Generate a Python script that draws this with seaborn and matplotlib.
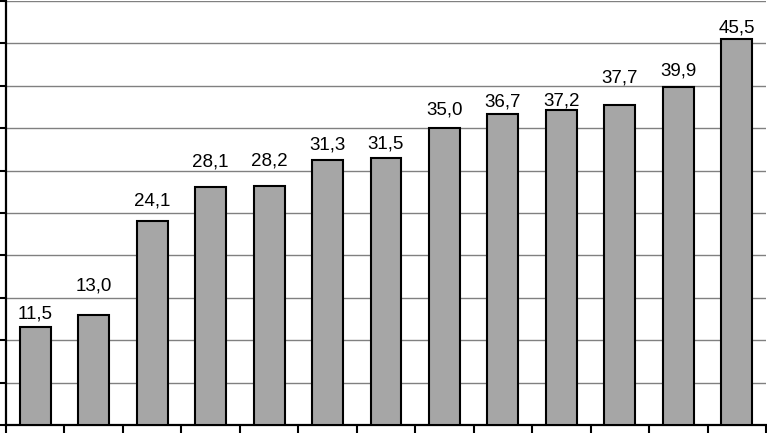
import matplotlib
matplotlib.use("Agg")
import matplotlib.pyplot as plt
import seaborn as sns
import pandas as pd
import numpy as np

# Data
categories = ['1', '2', '3', '4', '5', '6', '7', '8', '9', '10', '11', '12', '13']
values = [11.5, 13.0, 24.1, 28.1, 28.2, 31.3, 31.5, 35.0, 36.7, 37.2, 37.7, 39.9, 45.5]
y_ticks = [0, 5, 10, 15, 20, 25, 30, 35, 40, 45, 50]

# gap (px) between bar top and label baseline, as placed in the reference
label_gap_px = [9, 24, 15, 20, 20, 10, 9, 14, 7, 4, 23, 11, 7]

df = pd.DataFrame({'Category': categories, 'Value': values})

sns.set_style('white')
plt.rcParams['font.family'] = ['Liberation Sans', 'DejaVu Sans']

fig = plt.figure(figsize=(7.67, 4.33), dpi=100)
ax = fig.add_axes([6 / 767, 8 / 433, 760 / 767, 424 / 433])

sns.barplot(x='Category', y='Value', data=df, color='#a6a6a6', width=0.53,
            edgecolor='black', linewidth=1.5, saturation=1, ax=ax, zorder=3)

# Value labels with comma decimal separator
for bar, v, gap in zip(ax.patches, values, label_gap_px):
    ax.annotate(f'{v:.1f}'.replace('.', ','),
                (bar.get_x() + bar.get_width() / 2, bar.get_height()),
                xytext=(0, gap * 0.72), textcoords='offset points',
                ha='center', va='baseline', fontsize=13.5, color='black')

ax.set_ylim(0, 50)
ax.set_xlim(-0.5, len(categories) - 0.5)
ax.set_yticks(y_ticks)
ax.set_yticklabels([])
ax.set_xticks(np.arange(-0.5, len(categories), 1))
ax.set_xticklabels([])
ax.set_xlabel('')
ax.set_ylabel('')

ax.yaxis.grid(True, color='#808080', linewidth=1)
ax.set_axisbelow(True)

for side in ['top', 'right']:
    ax.spines[side].set_visible(False)
for side in ['left', 'bottom']:
    ax.spines[side].set_color('black')
    ax.spines[side].set_linewidth(1.6)

ax.tick_params(axis='y', direction='out', length=4.5, width=1.5, color='black', left=True)
ax.tick_params(axis='x', direction='out', length=6, width=1.5, color='black', bottom=True)

fig.savefig('out.png', dpi=100)
